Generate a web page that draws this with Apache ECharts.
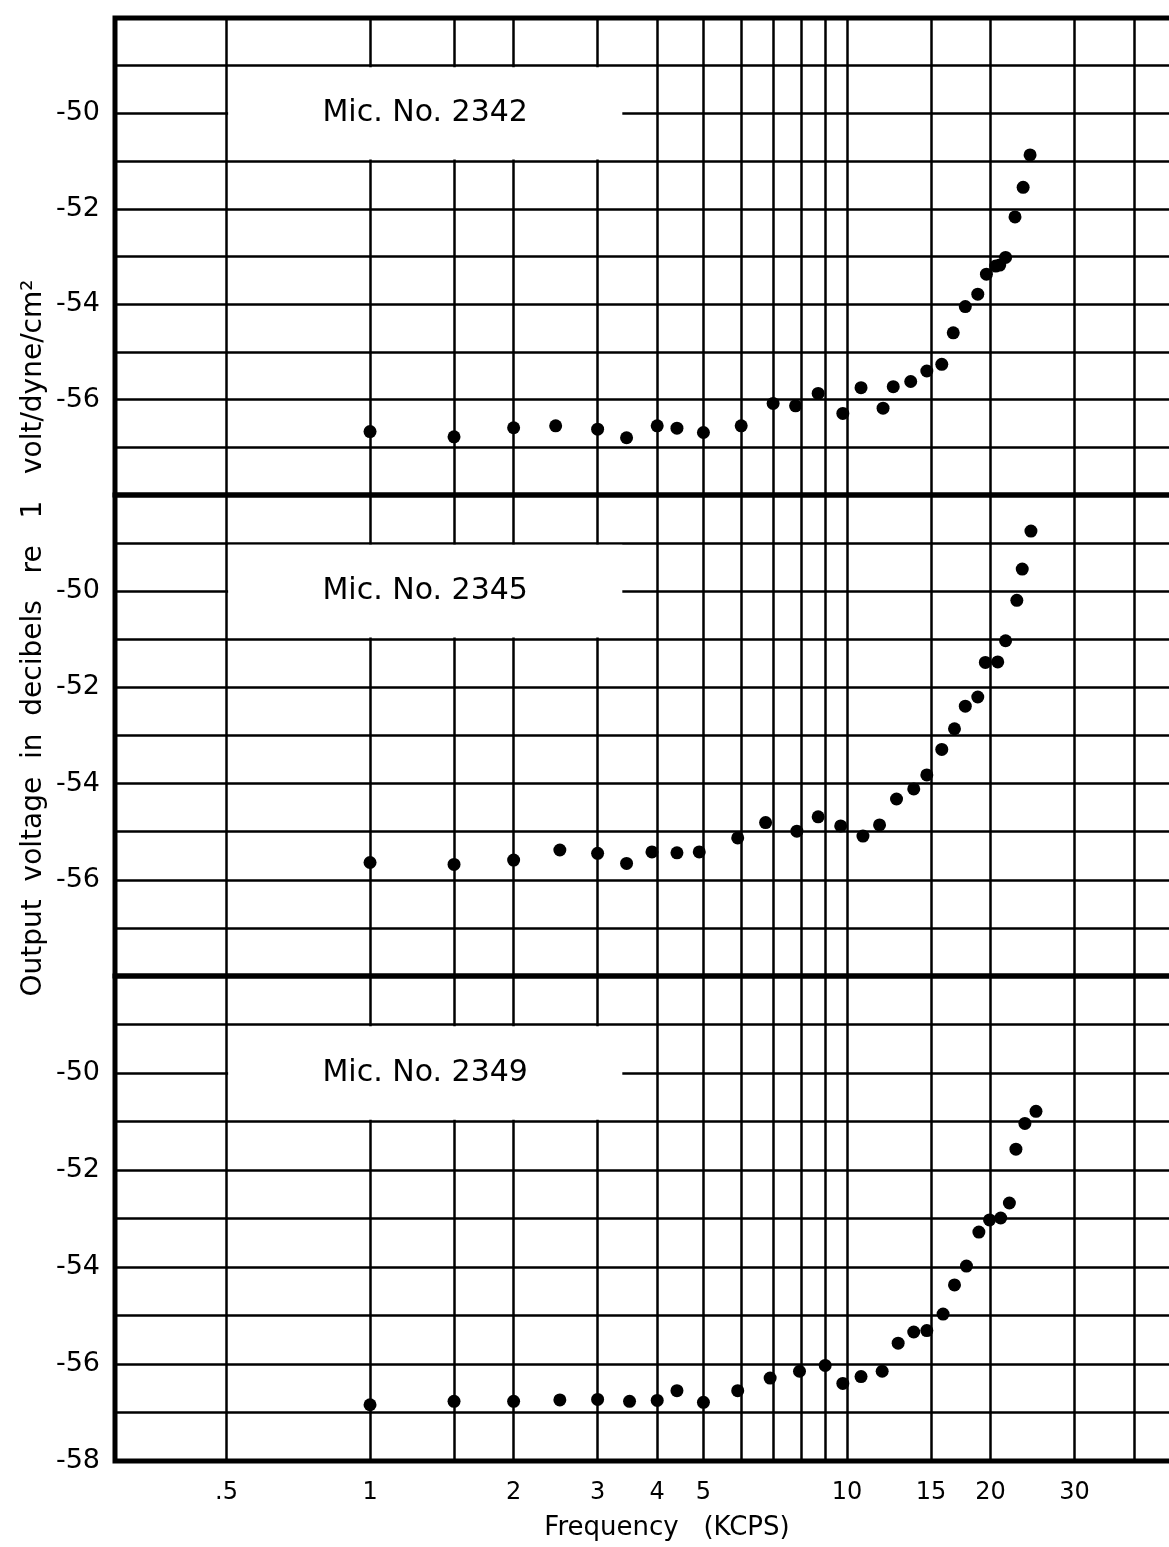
<!DOCTYPE html>
<html><head><meta charset="utf-8">
<script src="https://cdn.jsdelivr.net/npm/echarts@6/dist/echarts.min.js"></script>
<style>html,body{margin:0;padding:0;background:#fff}#c{width:1169px;height:1547px}</style>
</head><body><div id="c"></div>
<script>
// ---- data ----
const gridFreqs = [0.5, 1, 1.5, 2, 3, 4, 5, 6, 7, 8, 9, 10, 15, 20, 30, 40];
const xTickValues = [0.5, 1, 2, 3, 4, 5, 10, 15, 20, 30];
const xTickLabels = ['.5', '1', '2', '3', '4', '5', '10', '15', '20', '30'];
const yTicksUpper = [-50, -52, -54, -56];
const yTicksBottom = [-50, -52, -54, -56, -58];
const panelLabels = ['Mic. No. 2342', 'Mic. No. 2345', 'Mic. No. 2349'];

const freq2342 = [1, 1.5, 2, 2.45, 3, 3.45, 4, 4.4, 5, 6, 7, 7.8, 8.7, 9.8, 10.7, 11.9, 12.5, 13.6, 14.7, 15.8, 16.7, 17.7, 18.8, 19.6, 20.5, 20.9, 21.5, 22.5, 23.4, 24.2];
const db2342 = [-56.67, -56.78, -56.59, -56.55, -56.62, -56.8, -56.55, -56.6, -56.69, -56.55, -56.08, -56.13, -55.87, -56.29, -55.75, -56.18, -55.73, -55.62, -55.4, -55.26, -54.6, -54.05, -53.79, -53.37, -53.2, -53.18, -53.02, -52.17, -51.55, -50.87];

const freq2345 = [1, 1.5, 2, 2.5, 3, 3.45, 3.9, 4.4, 4.9, 5.9, 6.75, 7.85, 8.7, 9.7, 10.8, 11.7, 12.7, 13.8, 14.7, 15.8, 16.8, 17.7, 18.8, 19.5, 20.7, 21.5, 22.7, 23.3, 24.3];
const db2345 = [-55.64, -55.68, -55.59, -55.38, -55.45, -55.66, -55.42, -55.44, -55.42, -55.13, -54.81, -54.99, -54.69, -54.88, -55.09, -54.86, -54.32, -54.11, -53.82, -53.29, -52.86, -52.39, -52.2, -51.48, -51.47, -51.03, -50.19, -49.54, -48.75];

const freq2349 = [1, 1.5, 2, 2.5, 3, 3.5, 4, 4.4, 5, 5.9, 6.9, 7.95, 9, 9.8, 10.7, 11.85, 12.8, 13.8, 14.7, 15.9, 16.8, 17.8, 18.9, 19.9, 21.0, 21.9, 22.6, 23.6, 24.9];
const db2349 = [-56.84, -56.77, -56.77, -56.74, -56.73, -56.77, -56.75, -56.55, -56.79, -56.55, -56.29, -56.15, -56.03, -56.4, -56.26, -56.15, -55.57, -55.34, -55.31, -54.97, -54.37, -53.98, -53.28, -53.03, -52.99, -52.68, -51.57, -51.04, -50.79];

// ---- chart ----
const FONT = 'DejaVu Sans';
const panels = [
  {freq: freq2342, db: db2342, top: 18, height: 477},
  {freq: freq2345, db: db2345, top: 495, height: 481},
  {freq: freq2349, db: db2349, top: 976, height: 485}
];
const zip = (a, b) => a.map((v, i) => [v, b[i]]);

const grids = [], xAxes = [], yAxes = [], series = [];
panels.forEach((p, i) => {
  const last = i === panels.length - 1;
  grids.push({left: 115, top: p.top, width: 1070, height: p.height, show: true,
    borderColor: '#000', borderWidth: 5, backgroundColor: 'transparent',
    containLabel: false, outerBoundsMode: 'none'});
  xAxes.push({type: 'log', logBase: 10, gridIndex: i, min: 0.29195, max: 51.12,
    axisLine: {show: false}, axisTick: {show: false}, splitLine: {show: false},
    axisLabel: {show: last, customValues: xTickValues, margin: 20,
      fontFamily: FONT, fontSize: 24, color: '#000',
      formatter: v => { const k = xTickValues.findIndex(t => Math.abs(t - v) < 1e-6 * Math.max(1, t)); return k >= 0 ? xTickLabels[k] : ''; }}});
  yAxes.push({type: 'value', gridIndex: i, min: -58, max: -48, interval: 1,
    axisLine: {show: false}, axisTick: {show: false},
    splitLine: {show: true, lineStyle: {color: '#000', width: 2.5}},
    axisLabel: {customValues: last ? yTicksBottom : yTicksUpper, margin: 15,
      fontFamily: FONT, fontSize: 27, color: '#000', formatter: v => String(v)}});
  // vertical grid lines
  series.push({type: 'scatter', xAxisIndex: i, yAxisIndex: i, data: [], silent: true,
    markLine: {silent: true, symbol: ['none', 'none'], z: 5, animation: false,
      label: {show: false}, lineStyle: {color: '#000', width: 2.5, type: 'solid'},
      emphasis: {disabled: true},
      data: gridFreqs.map(f => ({xAxis: f}))}});
  // label box
  series.push({type: 'scatter', xAxisIndex: i, yAxisIndex: i, data: [], silent: true,
    markArea: {silent: true, z: 6, animation: false,
      itemStyle: {color: '#fff', borderWidth: 0},
      label: {show: true, position: 'inside', formatter: panelLabels[i],
        fontFamily: FONT, fontSize: 30, color: '#000'},
      emphasis: {disabled: true},
      data: [[{xAxis: 0.504, yAxis: -49.035}, {xAxis: 3.38, yAxis: -50.965}]]}});
  // data points
  series.push({type: 'scatter', xAxisIndex: i, yAxisIndex: i, z: 10,
    symbol: 'circle', symbolSize: 13, itemStyle: {color: '#000', opacity: 1},
    emphasis: {disabled: true},
    data: zip(p.freq, p.db), animation: false});
});

const chart = echarts.init(document.getElementById('c'), null, {renderer: 'canvas'});
chart.setOption({
  backgroundColor: '#fff',
  animation: false,
  grid: grids, xAxis: xAxes, yAxis: yAxes, series: series,
  graphic: [
    {type: 'text', x: 34, y: 638, rotation: Math.PI / 2,
      style: {text: 'Output  voltage  in  decibels   re   1   volt/dyne/cm²', fontFamily: FONT, fontSize: 28,
        fill: '#000', align: 'center', verticalAlign: 'middle'}},
    {type: 'text', x: 667, y: 1528,
      style: {text: 'Frequency   (KCPS)', fontFamily: FONT, fontSize: 26,
        fill: '#000', align: 'center', verticalAlign: 'middle'}}
  ]
});
</script>
</body></html>
